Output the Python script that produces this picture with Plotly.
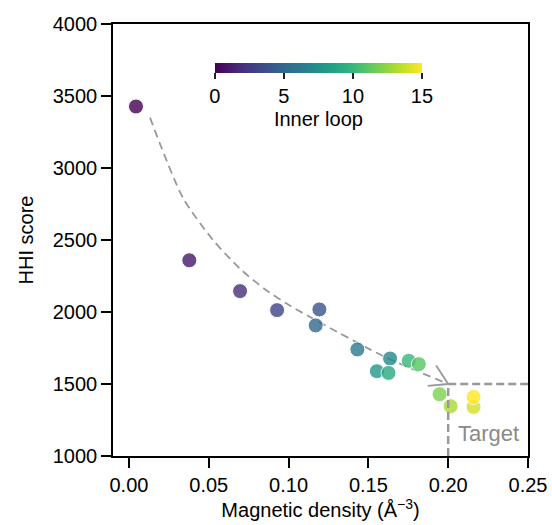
import plotly.graph_objects as go

# ---- data ----
magnetic_density = [0.0044, 0.0378, 0.0696, 0.0928, 0.1193, 0.1170, 0.1431, 0.1636,
                    0.1553, 0.1626, 0.1753, 0.1816, 0.1946, 0.2015, 0.2159, 0.2159]
hhi_score = [3427, 2359, 2145, 2013, 2018, 1907, 1740, 1677,
             1589, 1577, 1661, 1638, 1429, 1346, 1341, 1410]
inner_loop = [0, 1, 2, 3, 4, 5, 6, 7, 8, 9, 10, 11, 12, 13, 14, 15]

# guide curve (dashed arrow)
guide_x = [0.0132, 0.0205, 0.0340, 0.0527, 0.0696, 0.0850, 0.1000, 0.1300, 0.1600, 0.2000]
guide_y = [3350, 3138, 2790, 2500, 2300, 2160, 2050, 1865, 1690, 1500]

target_x = 0.20
target_y = 1500

x_range = [-0.01, 0.25]
y_range = [1000, 4000]
x_ticks = [0.00, 0.05, 0.10, 0.15, 0.20, 0.25]
y_ticks = [1000, 1500, 2000, 2500, 3000, 3500, 4000]
cbar_ticks = [0, 5, 10, 15]

FONT = "Liberation Sans, Arial, Helvetica, sans-serif"
GRAY = "#999999"
FS = 20

fig = go.Figure()

fig.add_trace(go.Scatter(
    x=guide_x, y=guide_y, mode="lines",
    line=dict(color=GRAY, width=1.8, dash="8px,5px", shape="spline", smoothing=0.8),
    hoverinfo="skip", showlegend=False,
))

fig.add_trace(go.Scatter(
    x=magnetic_density, y=hhi_score, mode="markers",
    marker=dict(
        size=15, color=inner_loop, colorscale="Viridis", cmin=0, cmax=15,
        opacity=0.8, line=dict(color="white", width=1),
        colorbar=dict(
            orientation="h", x=0.495, xanchor="center", y=0.910, yanchor="top",
            len=0.499, lenmode="fraction", thickness=10, outlinewidth=0,
            xpad=0, ypad=0,
            ticks="outside", ticklen=6, tickwidth=2, tickcolor="#222",
            tickvals=cbar_ticks, tickfont=dict(size=FS, family=FONT, color="black"),
            title=dict(text="Inner loop", side="bottom", font=dict(size=FS, family=FONT, color="black")),
        ),
    ),
    showlegend=False,
))

# target lines
fig.add_shape(type="line", x0=target_x, x1=x_range[1], y0=target_y, y1=target_y,
              xref="x", yref="y", line=dict(color=GRAY, width=2.5, dash="8px,4px"))
fig.add_shape(type="line", x0=target_x, x1=target_x, y0=y_range[0], y1=target_y,
              xref="x", yref="y", line=dict(color=GRAY, width=2.5, dash="8px,4px"))

# open arrow head at the end of the guide curve
for ax_off, ay_off in [(-13, -20), (-22, 2)]:
    fig.add_annotation(x=guide_x[-1], y=guide_y[-1], xref="x", yref="y",
                       ax=ax_off, ay=ay_off, axref="pixel", ayref="pixel",
                       showarrow=True, arrowhead=0, arrowwidth=1.8, arrowcolor=GRAY,
                       text="", standoff=0, startstandoff=0)

fig.add_annotation(x=0.2255, y=1158, xref="x", yref="y", text="Target",
                   showarrow=False, font=dict(size=22, family=FONT, color="#8a8a8a"))

axis_common = dict(
    showgrid=False, zeroline=False, showline=True, linecolor="black", linewidth=1.5,
    mirror=True, ticks="outside", ticklen=10, tickwidth=1.5, tickcolor="black",
    tickfont=dict(size=FS, family=FONT, color="black"), automargin=False,
)

fig.update_xaxes(range=x_range, tickvals=x_ticks, tickformat=".2f",
                 title=dict(text="Magnetic density (Å<sup>−3</sup>)", standoff=8,
                            font=dict(size=FS, family=FONT, color="black")),
                 **axis_common)
fig.update_yaxes(range=y_range, tickvals=y_ticks,
                 title=dict(text="HHI score", standoff=14,
                            font=dict(size=FS, family=FONT, color="black")),
                 **axis_common)

fig.update_layout(
    width=552, height=525,
    margin=dict(l=113, r=24, t=24, b=69),
    plot_bgcolor="white", paper_bgcolor="white",
    font=dict(family=FONT, color="black"),
)

fig.write_html("out.html")
